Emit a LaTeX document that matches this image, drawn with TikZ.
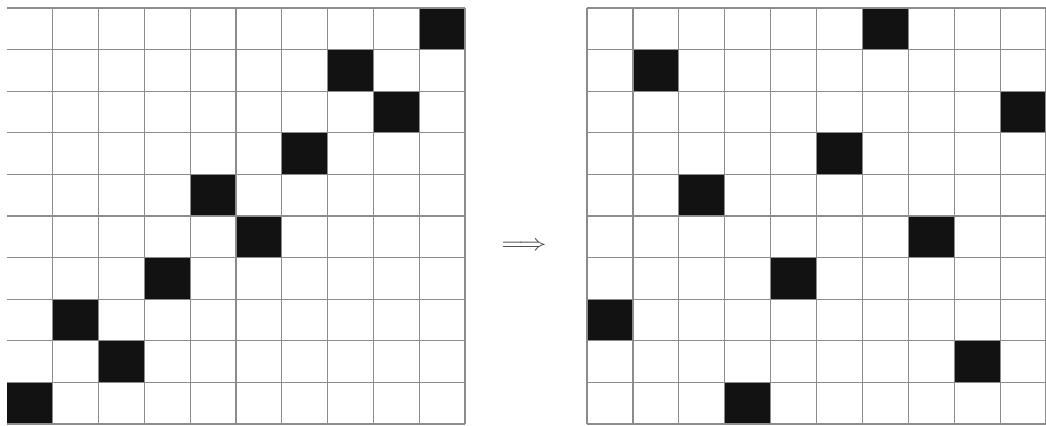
\documentclass[tikz,border=0pt]{standalone}
\usepackage{graphicx}
\begin{document}
\begin{tikzpicture}[x=0.75pt,y=-0.75pt,
  gridline/.style={draw=black!45, line width=0.9pt},
  blk/.style={fill=black!93, draw=none}]
\useasboundingbox (0,0) rectangle (1046,425);
% left grid
\def\LX{7}\def\LW{45.8}\def\TY{8}\def\CH{41.6}
\foreach \r/\c in {0/9,1/7,2/8,3/6,4/4,5/5,6/3,7/1,8/2,9/0}{
  \fill[blk] ({\LX+\c*\LW},{\TY+\r*\CH}) rectangle ({\LX+(\c+1)*\LW},{\TY+(\r+1)*\CH});
}
\foreach \i in {1,...,10}{
  \draw[gridline] ({\LX+\i*\LW},\TY) -- ({\LX+\i*\LW},{\TY+10*\CH});
}
\foreach \j in {0,...,10}{
  \draw[gridline] (\LX,{\TY+\j*\CH}) -- ({\LX+10*\LW},{\TY+\j*\CH});
}
% right grid
\def\RX{587}\def\RW{45.9}
\foreach \r/\c in {0/6,1/1,2/9,3/5,4/2,5/7,6/4,7/0,8/8,9/3}{
  \fill[blk] ({\RX+\c*\RW},{\TY+\r*\CH}) rectangle ({\RX+(\c+1)*\RW},{\TY+(\r+1)*\CH});
}
\foreach \i in {0,...,10}{
  \draw[gridline] ({\RX+\i*\RW},\TY) -- ({\RX+\i*\RW},{\TY+10*\CH});
}
\foreach \j in {0,...,10}{
  \draw[gridline] (\RX,{\TY+\j*\CH}) -- ({\RX+10*\RW},{\TY+\j*\CH});
}
\node[text=black!75] (arr) at (524,246) {\scalebox{2.1}[1.7]{$\Longrightarrow$}};
\end{tikzpicture}
\end{document}
